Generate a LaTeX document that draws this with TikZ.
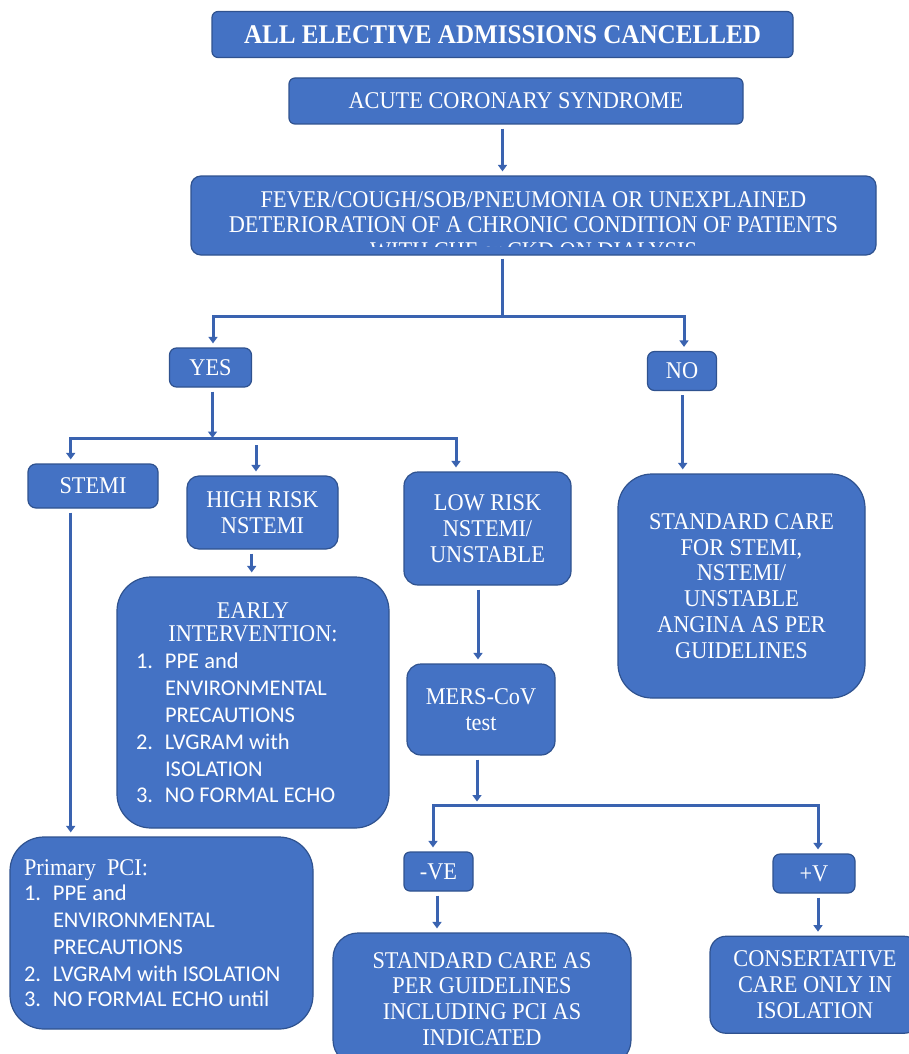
\documentclass[tikz,border=0pt]{standalone}
\usepackage{fontspec}
\setmainfont{Liberation Serif}[FakeStretch=0.93]
\newfontfamily\listfont{Carlito}
\usetikzlibrary{arrows.meta}

\definecolor{boxfill}{RGB}{68,114,196}
\definecolor{boxline}{RGB}{47,82,143}
\definecolor{linkc}{RGB}{58,99,176}

\newcommand\itemfont{\listfont\fontsize{22.5}{27}\selectfont}
\newcommand\itm[1]{\makebox[29pt][l]{#1}}
\newcommand\cont{\hspace*{29pt}}

\tikzset{
  txt/.style={text=white, inner sep=0pt, align=center, font=\fontsize{24}{25.7}\selectfont},
  box/.style={txt, draw=boxline, fill=boxfill, line width=1.2pt, rounded corners=8pt},
  bigbox/.style={box, rounded corners=34pt},
  link/.style={draw=linkc, line width=3pt},
  arr/.style={link, -{Triangle[width=9pt,length=6.5pt]}, shorten >=4pt},
  barr/.style={arr, shorten <=4pt},
}

\begin{document}
\begin{tikzpicture}[x=1pt,y=1pt,yscale=-1,xscale=1]
\useasboundingbox (0,0) rectangle (908,1054);

% Boxes
\node[box, minimum width=581pt, minimum height=46pt, rounded corners=6pt, font=\bfseries\fontsize{27}{30}\selectfont] (title) at (502.5,34.5) {ALL ELECTIVE ADMISSIONS CANCELLED};
\node[box, minimum width=454pt, minimum height=46pt, rounded corners=6pt] (acs) at (516,101) {ACUTE CORONARY SYNDROME};
\node[box, minimum width=685pt, minimum height=79pt, rounded corners=10pt] (fever) at (533.5,215.5) {};
\begin{scope}
\clip (191,176) rectangle (876,246);
\node[txt] (fevertext) at (533.5,225) {FEVER/COUGH/SOB/PNEUMONIA OR UNEXPLAINED\\DETERIORATION OF A CHRONIC CONDITION OF PATIENTS\\WITH CHF or CKD ON DIALYSIS};
\end{scope}
\node[box, minimum width=82pt, minimum height=39pt, rounded corners=7pt] (yes) at (210.5,367.5) {YES};
\node[box, minimum width=69pt, minimum height=39pt, rounded corners=7pt] (no) at (682,371) {NO};
\node[box, minimum width=130pt, minimum height=44pt] (stemi) at (93,486) {STEMI};
\node[box, minimum width=151pt, minimum height=73pt, rounded corners=12pt] (high) at (262.5,512.5) {HIGH RISK\\NSTEMI};
\node[box, minimum width=167pt, minimum height=113pt, rounded corners=14pt] (low) at (487.5,528.5) {LOW RISK\\NSTEMI/\\UNSTABLE};
\node[bigbox, minimum width=247pt, minimum height=224pt] (nocare) at (741.5,586) {STANDARD CARE\\FOR STEMI,\\NSTEMI/\\UNSTABLE\\ANGINA AS PER\\GUIDELINES};
\node[bigbox, minimum width=272pt, minimum height=251pt, text width=234pt, align=flush left] (early) at (253,702.5) {\makebox[\hsize]{EARLY}\\[-2.4pt]\makebox[\hsize]{INTERVENTION:}\\\itemfont\itm{1.}PPE and\\\cont ENVIRONMENTAL\\\cont PRECAUTIONS\\\itm{2.}LVGRAM with\\\cont ISOLATION\\\itm{3.}NO FORMAL ECHO};
\node[box, minimum width=148pt, minimum height=91pt, rounded corners=14pt] (mers) at (481,709.5) {MERS-CoV\\test};
\node[box, minimum width=69pt, minimum height=39pt, rounded corners=6pt] (neg) at (438.5,871.5) {-VE};
\node[box, minimum width=82pt, minimum height=39pt, rounded corners=7pt] (pos) at (814,873.5) {+V};
\node[box, minimum width=298pt, minimum height=132pt, rounded corners=25pt] (negcare) at (482,999) {STANDARD CARE AS\\PER GUIDELINES\\INCLUDING PCI AS\\INDICATED};
\node[box, minimum width=210pt, minimum height=97pt, rounded corners=16pt] (poscare) at (815,984.75) {CONSERTATIVE\\CARE ONLY IN\\ISOLATION};
\node[bigbox, minimum width=303pt, minimum height=192pt, text width=275pt, align=flush left] (pci) at (161.5,933) {Primary\ \ PCI:\\[-2pt]\itemfont\itm{1.}PPE and\\\cont ENVIRONMENTAL\\\cont PRECAUTIONS\\\itm{2.}LVGRAM with ISOLATION\\\itm{3.}NO FORMAL ECHO until};

% Junctions
\coordinate (split1) at (502,316);
\coordinate (split2) at (212.5,438);
\coordinate (split3) at (477,805.5);
\coordinate (hightop) at (256,445);

% Connectors
\draw[barr] ([xshift=-13.5pt]acs.south) -- ([xshift=-31pt]fever.north);
\draw[link, shorten <=3pt] ([xshift=-31.5pt]fever.south) -- (split1);
\draw[arr] (split1) -| ([xshift=2.5pt]yes.north);
\draw[arr] (split1) -| ([xshift=2pt]no.north);
\draw[barr, shorten >=0pt] ([xshift=2pt]yes.south) -- (split2);
\draw[arr] (split2) -| ([xshift=-22.3pt]stemi.north);
\draw[arr] (split2) -| ([xshift=-31.5pt]low.north);
\draw[arr] (hightop) -- (hightop |- high.north);
\draw[barr] ([xshift=0.7pt]no.south) -- ([xshift=-58.8pt]nocare.north);
\draw[barr] ([xshift=-22.3pt]stemi.south) -- ([xshift=-90.8pt]pci.north);
\draw[barr] ([xshift=-10.8pt]high.south) -- ([xshift=-1.3pt]early.north);
\draw[barr] ([xshift=-9.5pt]low.south) -- ([xshift=-3pt]mers.north);
\draw[barr] ([xshift=-4pt]mers.south) -- (split3);
\draw[arr] (split3) -| ([xshift=-5.5pt]neg.north);
\draw[arr] (split3) -| ([xshift=4pt]pos.north);
\draw[barr] ([xshift=-1.5pt]neg.south) -- ([xshift=-45pt]negcare.north);
\draw[barr] ([xshift=4pt]pos.south) -- ([xshift=3pt]poscare.north);

\end{tikzpicture}
\end{document}
